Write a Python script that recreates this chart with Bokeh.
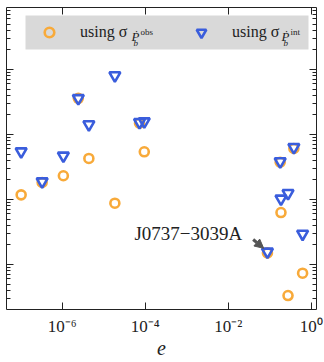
from bokeh.plotting import figure
from bokeh.models import (Range1d, FixedTicker, LogAxis, Legend, LegendItem, Label,
                          Arrow, NormalHead, ColumnDataSource, CustomJSTickFormatter,
                          BoxAnnotation)
from bokeh.embed import file_html
from bokeh.resources import INLINE

# ---- data (y in arbitrary log units) ----
ecc = [1.03e-7, 3.3e-7, 1.07e-6, 2.45e-6, 4.4e-6, 1.86e-5, 7.3e-5, 9.5e-5,
       0.0878, 0.178, 0.186, 0.275, 0.38, 0.617]
sig_obs = [0.0118, 0.0183, 0.0232, 0.361, 0.0428, 0.00877, 0.149, 0.0542,
           0.00151, 0.0375, 0.0063, 0.000333, 0.061, 0.000735]
sig_int = [0.0547, 0.0189, 0.047, 0.361, 0.1426, 0.809, 0.1545, 0.1585,
           0.00157, 0.0385, 0.01026, 0.0125, 0.0638, 0.00296]
x_ticks = [1e-6, 1e-4, 1e-2, 1.0]
x_tick_labels = ["10⁻⁶", "10⁻⁴", "10⁻²", "10⁰"]
y_major = [1e-3, 1e-2, 1e-1, 1.0]
y_minor = [m * t for t in [1e-4, 1e-3, 1e-2, 1e-1, 1.0] for m in range(2, 10)]
label_name = "J0737−3039A"
idx_label = 8

ORANGE = "#f8aa3a"
BLUE = "#3a5ddc"
AX = "#222222"
SERIF = "Liberation Serif"

p = figure(width=324, height=362, x_axis_type="log", y_axis_type="log",
           x_range=Range1d(10 ** -7.34, 10 ** 0.125),
           y_range=Range1d(10 ** -3.692, 10 ** 0.954),
           output_backend="svg", toolbar_location=None,
           min_border_left=6, min_border_right=8, min_border_top=7, min_border_bottom=53)
p.grid.visible = False
p.outline_line_color = None
p.background_fill_color = "white"
p.border_fill_color = "white"

xt = FixedTicker(ticks=x_ticks, minor_ticks=[])
yt = FixedTicker(ticks=y_major, minor_ticks=y_minor)

xa = p.xaxis[0]
xa.ticker = xt
xa.major_label_overrides = {t: s for t, s in zip(x_ticks, x_tick_labels)}
xa.major_tick_in = 7
xa.major_tick_out = 0
xa.minor_tick_in = 0
xa.minor_tick_out = 0
xa.major_label_text_font = SERIF
xa.major_label_text_font_size = "17px"
xa.major_label_text_color = "#222222"
xa.major_label_standoff = 7
xa.axis_label = "e"
xa.axis_label_text_font = SERIF
xa.axis_label_text_font_style = "italic"
xa.axis_label_text_font_size = "20px"
xa.axis_label_text_color = "#222222"
xa.axis_label_standoff = 2
xa.axis_line_color = AX
xa.major_tick_line_color = AX

ya = p.yaxis[0]
ya.ticker = yt


def style_blank(ax, minor=True):
    ax.major_tick_in = 7
    ax.major_tick_out = 0
    ax.minor_tick_in = 4 if minor else 0
    ax.minor_tick_out = 0
    ax.formatter = CustomJSTickFormatter(code="return ''")
    ax.major_label_text_font_size = "1px"
    ax.major_label_standoff = 0
    ax.axis_line_color = AX
    ax.major_tick_line_color = AX
    ax.minor_tick_line_color = AX


style_blank(ya)
ra = LogAxis(ticker=yt)
style_blank(ra)
p.add_layout(ra, "right")
ta = LogAxis(ticker=xt)
style_blank(ta, minor=False)
p.add_layout(ta, "above")

# grey legend panel (drawn under the points)
p.add_layout(BoxAnnotation(left=19, right=302, bottom=260, top=294,
                           left_units="screen", right_units="screen",
                           bottom_units="screen", top_units="screen",
                           fill_color="#d9d9d9", fill_alpha=1.0, line_color=None,
                           level="underlay"))

src = ColumnDataSource(dict(e=ecc, obs=sig_obs, intr=sig_int))
r1 = p.scatter("e", "obs", source=src, marker="circle", size=9,
               fill_color=None, line_color=ORANGE, line_width=2.6)
r2 = p.scatter("e", "intr", source=src, marker="inverted_triangle", size=11,
               fill_color=None, line_color=BLUE, line_width=2.6)

legend = Legend(items=[LegendItem(label="using σ", renderers=[r1]),
                       LegendItem(label="using σ", renderers=[r2])],
                orientation="horizontal", location=(19, 265),
                glyph_width=48, glyph_height=24, label_height=24, label_width=75,
                label_standoff=7, spacing=22, padding=0, margin=0,
                background_fill_alpha=0.0, border_line_color=None,
                label_text_font=SERIF, label_text_font_size="16px",
                label_text_color="#222222")
p.add_layout(legend)

# subscripts of the legend labels
for x0, sup in [(125, "obs"), (275, "int")]:
    p.add_layout(Label(x=x0, y=273, x_units="screen", y_units="screen", text="Ṗ",
                       text_font=SERIF, text_font_style="italic", text_font_size="13px",
                       text_color="#222222", text_baseline="alphabetic", level="overlay"))
    p.add_layout(Label(x=x0 + 2, y=267, x_units="screen", y_units="screen", text="b",
                       text_font=SERIF, text_font_style="italic", text_font_size="9px",
                       text_color="#222222", text_baseline="alphabetic", level="overlay"))
    p.add_layout(Label(x=x0 + 9, y=278, x_units="screen", y_units="screen", text=sup,
                       text_font=SERIF, text_font_size="9px", text_color="#222222",
                       text_baseline="alphabetic", level="overlay"))

# annotation of the double pulsar
p.add_layout(Label(x=10 ** -4.26, y=10 ** -2.523, text=label_name,
                   text_font=SERIF, text_font_size="19px", text_color="#222222",
                   text_baseline="alphabetic"))
p.add_layout(Arrow(x_start=10 ** -1.40, y_start=10 ** -2.615,
                   x_end=ecc[idx_label] / 1.23, y_end=sig_int[idx_label] * 1.13,
                   line_color="#555555", line_width=3,
                   end=NormalHead(size=9, fill_color="#555555", line_color="#555555")))

open("out.html", "w").write(file_html(p, INLINE))
